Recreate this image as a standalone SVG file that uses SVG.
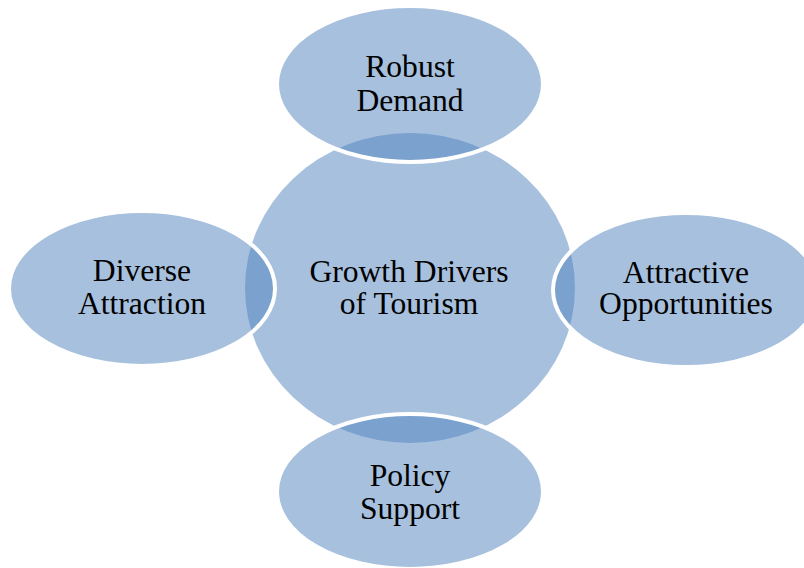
<svg xmlns="http://www.w3.org/2000/svg" width="804" height="568" viewBox="0 0 804 568">
  <style>
    .hub { fill: #4f81bd; fill-opacity: 0.5; stroke: none; }
    .spoke { fill: #4f81bd; fill-opacity: 0.5; stroke: #ffffff; stroke-width: 4; }
    .label { font-family: "Liberation Serif", "Times New Roman", serif; font-size: 31.6px; fill: #000000; text-anchor: middle; }
  </style>
  <rect width="804" height="568" fill="#ffffff"/>

  <!-- central hub -->
  <g id="node-center">
    <ellipse class="hub" cx="410" cy="288" rx="165" ry="155"/>
    <text class="label" x="409" y="281.5">Growth Drivers</text>
    <text class="label" x="409" y="314">of Tourism</text>
  </g>

  <!-- no connectors: the satellites overlap the hub directly -->
  <g id="connectors"></g>

  <!-- satellites, drawn over the hub so the overlaps darken -->
  <g id="node-top">
    <ellipse class="spoke" cx="410" cy="84" rx="133" ry="78"/>
    <text class="label" x="410" y="77">Robust</text>
    <text class="label" x="410" y="110.5">Demand</text>
  </g>

  <g id="node-left">
    <ellipse class="spoke" cx="142" cy="288.5" rx="133" ry="77.5"/>
    <text class="label" x="142" y="281">Diverse</text>
    <text class="label" x="142" y="314">Attraction</text>
  </g>

  <g id="node-right">
    <ellipse class="spoke" cx="686" cy="290" rx="133" ry="77"/>
    <text class="label" x="686" y="282.5">Attractive</text>
    <text class="label" x="686" y="314">Opportunities</text>
  </g>

  <g id="node-bottom">
    <ellipse class="spoke" cx="410" cy="491.5" rx="133" ry="77.5"/>
    <text class="label" x="410" y="486">Policy</text>
    <text class="label" x="410" y="518.5">Support</text>
  </g>
</svg>
